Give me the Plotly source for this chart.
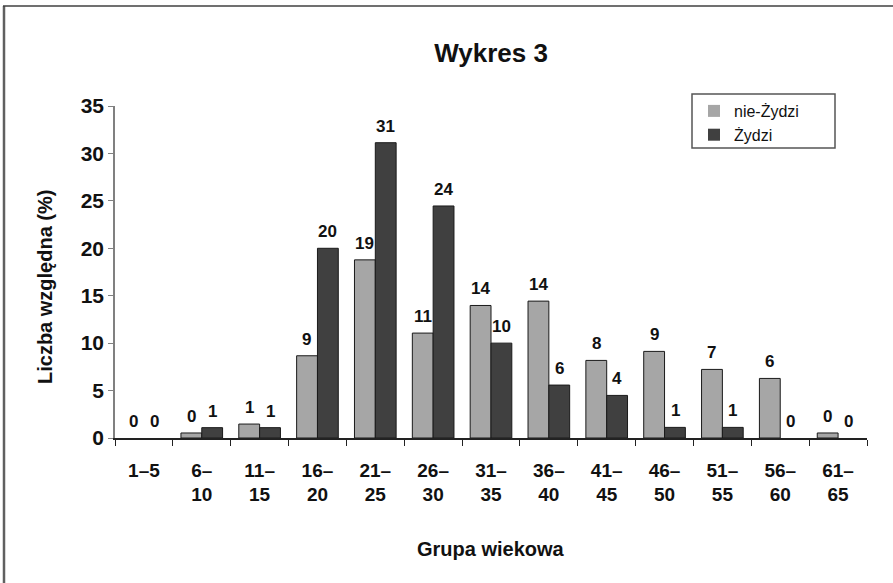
import plotly.graph_objects as go

categories = ["1–5", "6–<br>10", "11–<br>15", "16–<br>20", "21–<br>25", "26–<br>30", "31–<br>35",
              "36–<br>40", "41–<br>45", "46–<br>50", "51–<br>55", "56–<br>60", "61–<br>65"]
nie_zydzi = [0, 0.53, 1.47, 8.67, 18.78, 11.06, 13.97, 14.43, 8.18, 9.13, 7.23, 6.28, 0.53]
zydzi = [0, 1.09, 1.09, 20.0, 31.13, 24.46, 10.0, 5.58, 4.49, 1.12, 1.12, 0, 0]
nie_labels = ["0", "0", "1", "9", "19", "11", "14", "14", "8", "9", "7", "6", "0"]
zydzi_labels = ["0", "1", "1", "20", "31", "24", "10", "6", "4", "1", "1", "0", "0"]
y_ticks = [0, 5, 10, 15, 20, 25, 30, 35]

FONT = "Liberation Sans, Arial, sans-serif"

fig = go.Figure()
fig.add_trace(go.Bar(x=categories, y=nie_zydzi, name="nie-Żydzi",
                     marker=dict(color="#A6A6A6",
                                 line=dict(color="#1a1a1a", width=[1 if v > 0 else 0 for v in nie_zydzi]))))
fig.add_trace(go.Bar(x=categories, y=zydzi, name="Żydzi",
                     marker=dict(color="#404040",
                                 line=dict(color="#1a1a1a", width=[1 if v > 0 else 0 for v in zydzi]))))

annotations = []
for cat, v, t in zip(categories, nie_zydzi, nie_labels):
    annotations.append(dict(x=cat, y=v, xref="x", yref="y", text="<b>%s</b>" % t, showarrow=False,
                            xshift=-10.5, yshift=5, yanchor="bottom",
                            font=dict(family=FONT, size=17, color="#111")))
for cat, v, t in zip(categories, zydzi, zydzi_labels):
    annotations.append(dict(x=cat, y=v, xref="x", yref="y", text="<b>%s</b>" % t, showarrow=False,
                            xshift=10.5, yshift=5, yanchor="bottom",
                            font=dict(family=FONT, size=17, color="#111")))

annotations.append(dict(x=0.5, y=(438 - 549) / 332, xref="paper", yref="paper",
                        text="<b>Grupa wiekowa</b>", showarrow=False, yanchor="middle",
                        font=dict(family=FONT, size=20, color="#111")))
annotations.append(dict(x=(45 - 115) / 752, y=(438 - 287) / 332, xref="paper", yref="paper",
                        text="<b>Liczba względna (%)</b>", showarrow=False, textangle=-90,
                        xanchor="center", yanchor="middle",
                        font=dict(family=FONT, size=20, color="#111")))


def px_x(p):
    return (p - 115) / 752


def px_y(p):
    return (438 - p) / 332


shapes = [
    dict(type="line", xref="paper", yref="paper", x0=px_x(4), x1=px_x(4),
         y0=px_y(6), y1=px_y(600), line=dict(color="#606060", width=2.5)),
    dict(type="line", xref="paper", yref="paper", x0=px_x(3), x1=px_x(900),
         y0=px_y(6), y1=px_y(6), line=dict(color="#404040", width=1.5)),
    dict(type="rect", xref="paper", yref="paper", x0=px_x(692), x1=px_x(835),
         y0=px_y(94), y1=px_y(148), line=dict(color="#555", width=1.5), layer="above"),
]

fig.update_layout(
    width=893, height=583,
    margin=dict(l=115, r=26, t=106, b=145),
    paper_bgcolor="white", plot_bgcolor="white",
    font=dict(family=FONT, color="#111"),
    barmode="group", bargap=0.28, bargroupgap=0,
    title=dict(text="<b>Wykres 3</b>", x=0.5, xref="paper", xanchor="center",
               y=1 - 53 / 583, yanchor="middle", font=dict(family=FONT, size=26, color="#111")),
    showlegend=True,
    legend=dict(x=px_x(694), y=px_y(94), xanchor="left", yanchor="top",
                borderwidth=0, bgcolor="rgba(0,0,0,0)",
                font=dict(family=FONT, size=16, color="#111"),
                tracegroupgap=0, itemwidth=30),
    annotations=annotations,
    shapes=shapes,
)
fig.update_xaxes(type="category", showline=True, linecolor="#222", linewidth=1.5,
                 ticks="outside", tickson="boundaries", ticklen=6, tickcolor="#222",
                 tickfont=dict(family=FONT, size=19, color="#111"),
                 tickprefix="<b>", ticksuffix="</b>", showgrid=False, ticklabelstandoff=14)
fig.update_yaxes(range=[0, 35], tickvals=y_ticks, ticktext=["<b>%d</b>" % v for v in y_ticks],
                 showline=True, linecolor="#808080", linewidth=1.5,
                 ticks="outside", ticklen=5, tickcolor="#808080", showgrid=False, zeroline=False,
                 tickfont=dict(family=FONT, size=21, color="#111"))

fig.write_html("out.html", config={"displayModeBar": False},
               post_script="document.body.style.margin='0';document.body.style.padding='0';"
                           "document.body.style.overflow='hidden';")
